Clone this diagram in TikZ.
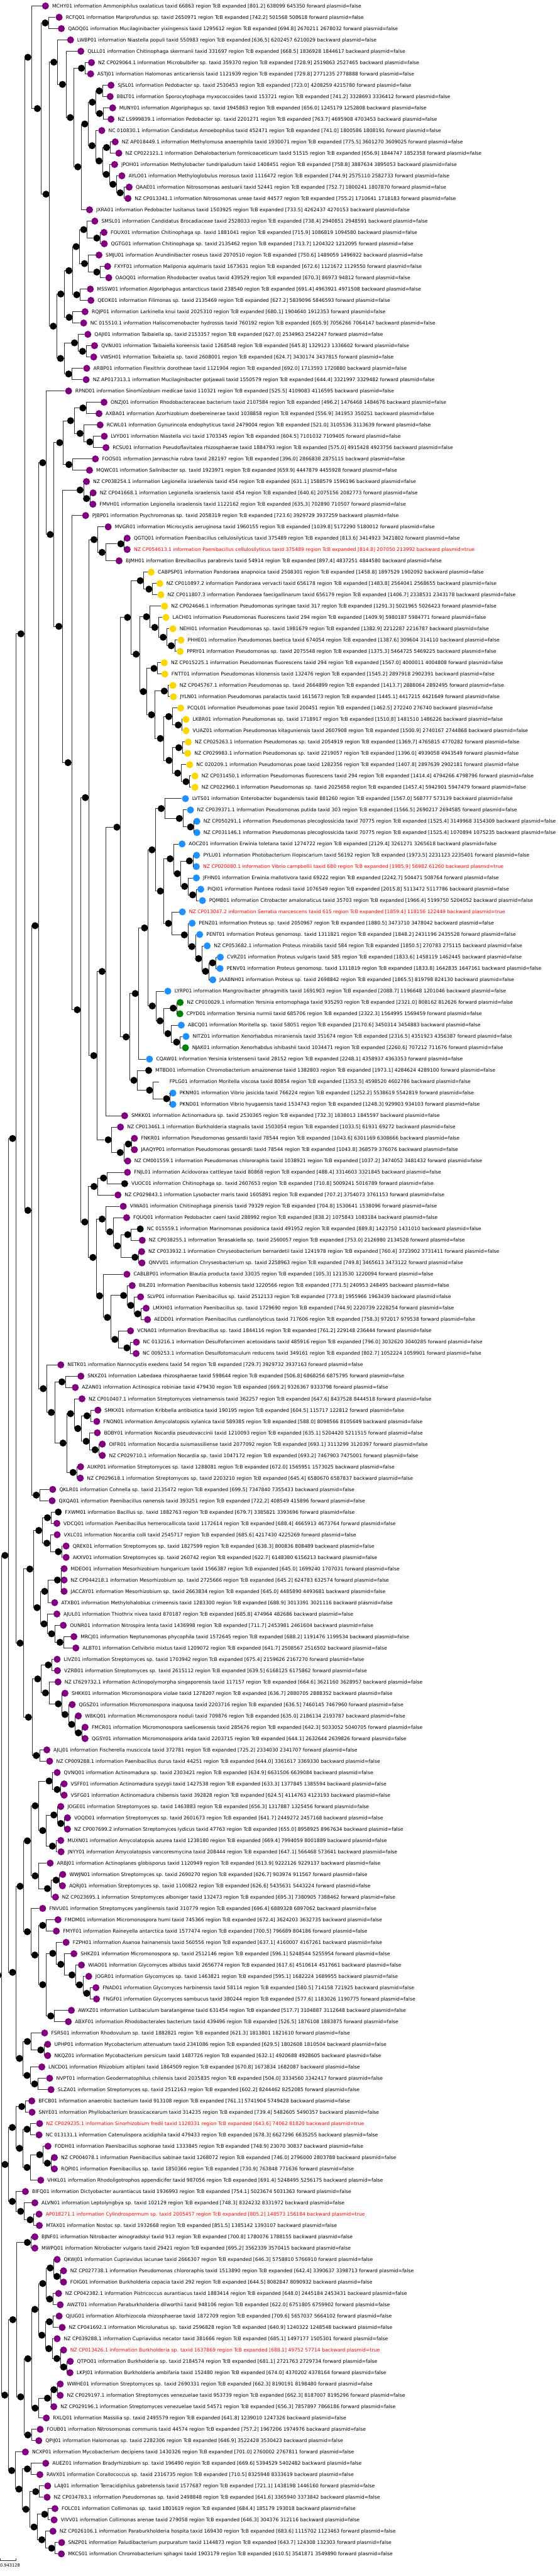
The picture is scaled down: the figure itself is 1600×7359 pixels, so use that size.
\documentclass[tikz,border=0pt]{standalone}
\usepackage{fontspec}
\newfontfamily\lblfont{DejaVu Sans}
\usetikzlibrary{calc}
\definecolor{pur}{HTML}{800080}
\definecolor{gld}{HTML}{FFD700}
\definecolor{dbl}{HTML}{1E90FF}
\definecolor{dgr}{HTML}{008000}
\definecolor{redt}{HTML}{FF0000}
\definecolor{edgec}{HTML}{303030}
\tikzset{
  dot/.style={circle,inner sep=0pt,minimum size=20pt,draw=none},
  idot/.style={dot,fill=black},
  edge/.style={line width=1.5pt,draw=edgec},
  lbl/.style={inner sep=0pt,anchor=base west,font=\lblfont\fontsize{13.8}{16}\selectfont},
}
\newcommand\LF[4]{\node[dot,fill=#3] (l#1) at ({#2*0.7972pt},{#1*-32.35pt}) {};
  \node[lbl] (t#1) at ([xshift=19pt,yshift=-5pt]l#1.center) {#4};}
\newcommand\LR[4]{\node[dot,fill=#3] (l#1) at ({#2*0.7972pt},{#1*-32.35pt}) {};
  \node[lbl,text=redt] (t#1) at ([xshift=19pt,yshift=-5pt]l#1.center) {#4};}
\newcommand\LN[3]{\node[dot,fill=none] (l#1) at ({#2*0.7972pt},{#1*-32.35pt}) {};
  \node[lbl] (t#1) at ([xshift=19pt,yshift=-5pt]l#1.center) {#3};}
\newcommand\ED[2]{\draw[edge] (#1.east) |- (#2);}
\newcommand\ND[4]{\path let \p1=(#3), \p2=(#4) in ({#2*0.7972pt},{0.5*\y1+0.5*\y2}) node[idot] (#1) {};
  \ED{#1}{#3}\ED{#1}{#4}}
\begin{document}
\begin{tikzpicture}
\useasboundingbox (0pt,17pt) rectangle (1600pt,-7342pt);
\fill[white] (0pt,17pt) rectangle (1600pt,-7342pt);
% ---------------- leaves
\LF{0}{163}{pur}{MCHY01 information Ammoniphilus oxalaticus taxid 66863 region TcB expanded [801.2] 638099 645350 forward plasmid=false}
\LF{1}{212}{pur}{RCFQ01 information Mariprofundus sp. taxid 2650971 region TcB expanded [742.2] 501568 508618 forward plasmid=false}
\LF{2}{220}{pur}{QAOQ01 information Mucilaginibacter yixingensis taxid 1295612 region TcB expanded [694.8] 2670211 2678032 forward plasmid=false}
\LF{3}{253}{pur}{LWBP01 information Niastella populi taxid 550983 region TcB expanded [636.5] 6202457 6210029 backward plasmid=false}
\LF{4}{290}{pur}{QLLL01 information Chitinophaga skermanii taxid 331697 region TcB expanded [668.5] 1836928 1844617 backward plasmid=false}
\LF{5}{328}{pur}{NZ CP029064.1 information Microbulbifer sp. taxid 359370 region TcB expanded [728.9] 2519863 2527465 backward plasmid=false}
\LF{6}{325}{pur}{ASTJ01 information Halomonas anticariensis taxid 1121939 region TcB expanded [729.8] 2771235 2778888 forward plasmid=false}
\LF{7}{398}{pur}{SJSL01 information Pedobacter sp. taxid 2530453 region TcB expanded [723.0] 4208259 4215780 forward plasmid=false}
\LF{8}{395}{pur}{BBLT01 information Sporocytophaga myxococcoides taxid 153721 region TcB expanded [741.2] 3328693 3336412 forward plasmid=false}
\LF{9}{404}{pur}{MUNY01 information Algoriphagus sp. taxid 1945863 region TcB expanded [656.0] 1245179 1252808 backward plasmid=false}
\LF{10}{398}{pur}{NZ LS999839.1 information Pedobacter sp. taxid 2201271 region TcB expanded [763.7] 4695908 4703453 backward plasmid=false}
\LF{11}{365}{pur}{NC 010830.1 information Candidatus Amoebophilus taxid 452471 region TcB expanded [741.0] 1800586 1808191 forward plasmid=false}
\LF{12}{413}{pur}{NZ AP018449.1 information Methylomusa anaerophila taxid 1930071 region TcB expanded [775.5] 3601270 3609025 forward plasmid=false}
\LF{13}{426}{pur}{NZ CP022121.1 information Dehalobacterium formicoaceticum taxid 51515 region TcB expanded [656.9] 1844747 1852358 forward plasmid=false}
\LF{14}{411}{pur}{JPOH01 information Methylobacter tundripaludum taxid 1408451 region TcB expanded [758.8] 3887634 3895053 backward plasmid=false}
\LF{15}{437}{pur}{AYLO01 information Methyloglobulus morosus taxid 1116472 region TcB expanded [744.9] 2575110 2582733 forward plasmid=false}
\LF{16}{463}{pur}{QAAE01 information Nitrosomonas aestuarii taxid 52441 region TcB expanded [752.7] 1800241 1807870 forward plasmid=false}
\LF{17}{459}{pur}{NZ CP013341.1 information Nitrosomonas ureae taxid 44577 region TcB expanded [755.2] 1710641 1718183 forward plasmid=false}
\LF{18}{321}{pur}{JXRA01 information Pedobacter lusitanus taxid 1503925 region TcB expanded [733.5] 4262437 4270153 backward plasmid=false}
\LF{19}{340}{pur}{SMSL01 information Candidatus Brocadiaceae taxid 2528033 region TcB expanded [738.4] 2940851 2948591 backward plasmid=false}
\LF{20}{373}{pur}{FOUX01 information Chitinophaga sp. taxid 1881041 region TcB expanded [715.9] 1086819 1094580 backward plasmid=false}
\LF{21}{374}{pur}{QGTG01 information Chitinophaga sp. taxid 2135462 region TcB expanded [713.7] 1204322 1212095 forward plasmid=false}
\LF{22}{355}{pur}{SMJU01 information Arundinibacter roseus taxid 2070510 region TcB expanded [750.6] 1489059 1496922 backward plasmid=false}
\LF{23}{386}{pur}{FXYF01 information Maliponia aquimaris taxid 1673631 region TcB expanded [672.6] 1121672 1129550 forward plasmid=false}
\LF{24}{390}{pur}{OAOQ01 information Rhodobacter ovatus taxid 439529 region TcB expanded [670.3] 86973 94812 forward plasmid=false}
\LF{25}{324}{pur}{MSSW01 information Algoriphagus antarcticus taxid 238540 region TcB expanded [691.4] 4963921 4971508 backward plasmid=false}
\LF{26}{326}{pur}{QEOK01 information Filimonas sp. taxid 2135469 region TcB expanded [627.2] 5839096 5846593 forward plasmid=false}
\LF{27}{305}{pur}{RQJP01 information Larkinella knui taxid 2025310 region TcB expanded [680.1] 1904640 1912353 forward plasmid=false}
\LF{28}{300}{pur}{NC 015510.1 information Haliscomenobacter hydrossis taxid 760192 region TcB expanded [605.9] 7056266 7064147 backward plasmid=false}
\LF{29}{315}{pur}{QAJI01 information Taibaiella sp. taxid 2153357 region TcB expanded [627.0] 2534963 2542247 forward plasmid=false}
\LF{30}{339}{pur}{QVNU01 information Taibaiella koreensis taxid 1268548 region TcB expanded [645.8] 1329123 1336602 forward plasmid=false}
\LF{31}{336}{pur}{VWSH01 information Taibaiella sp. taxid 2608001 region TcB expanded [624.7] 3430174 3437815 forward plasmid=false}
\LF{32}{311}{pur}{ARBP01 information Flexithrix dorotheae taxid 1121904 region TcB expanded [692.0] 1713593 1720880 backward plasmid=false}
\LF{33}{309}{pur}{NZ AP017313.1 information Mucilaginibacter gotjawali taxid 1550579 region TcB expanded [644.4] 3321997 3329482 forward plasmid=false}
\LF{34}{246}{pur}{RPND01 information Sinorhizobium medicae taxid 110321 region TcB expanded [525.5] 4109083 4116595 backward plasmid=false}
\LF{35}{373}{pur}{ONZJ01 information Rhodobacteraceae bacterium taxid 2107584 region TcB expanded [496.2] 1476468 1484676 backward plasmid=false}
\LF{36}{355}{pur}{AXBA01 information Azorhizobium doebereinerae taxid 1038858 region TcB expanded [556.9] 341953 350251 backward plasmid=false}
\LF{37}{359}{pur}{RCWL01 information Gynurincola endophyticus taxid 2479004 region TcB expanded [521.0] 3105536 3113639 forward plasmid=false}
\LF{38}{374}{pur}{LVYD01 information Niastella vici taxid 1703345 region TcB expanded [604.5] 7101032 7109405 forward plasmid=false}
\LF{39}{380}{pur}{RCSU01 information Pseudoflavitalea rhizosphaerae taxid 1884793 region TcB expanded [575.0] 4915428 4923756 backward plasmid=false}
\LF{40}{342}{pur}{FOOS01 information Jannaschia rubra taxid 282197 region TcB expanded [396.0] 2866838 2875115 backward plasmid=false}
\LF{41}{321}{pur}{MQWC01 information Salinibacter sp. taxid 1923971 region TcB expanded [659.9] 4447879 4455928 forward plasmid=false}
\LF{42}{310}{pur}{NZ CP038254.1 information Legionella israelensis taxid 454 region TcB expanded [631.1] 1588579 1596196 backward plasmid=false}
\LF{43}{334}{pur}{NZ CP041668.1 information Legionella israelensis taxid 454 region TcB expanded [640.6] 2075156 2082773 forward plasmid=false}
\LF{44}{333}{pur}{FMVH01 information Legionella israelensis taxid 1122162 region TcB expanded [635.3] 702890 710507 forward plasmid=false}
\LF{45}{307}{pur}{PJBP01 information Psychromonas sp. taxid 2058319 region TcB expanded [723.6] 3929729 3937259 backward plasmid=false}
\LF{46}{388}{pur}{MVGR01 information Microcystis aeruginosa taxid 1960155 region TcB expanded [1039.8] 5172290 5180012 forward plasmid=false}
\LF{47}{456}{pur}{QGTQ01 information Paenibacillus cellulosilyticus taxid 375489 region TcB expanded [813.6] 3414923 3421802 forward plasmid=false}
\LR{48}{456}{pur}{NZ CP054613.1 information Paenibacillus cellulosilyticus taxid 375489 region TcB expanded [814.8] 207050 213992 backward plasmid=true}
\LF{49}{427}{pur}{BJMH01 information Brevibacillus parabrevis taxid 54914 region TcB expanded [897.4] 4837251 4844580 backward plasmid=false}
\LF{50}{542}{gld}{CABPSP01 information Pandoraea anapnoica taxid 2508301 region TcB expanded [1458.8] 1897529 1902092 backward plasmid=false}
\LF{51}{573}{gld}{NZ CP010897.2 information Pandoraea vervacti taxid 656178 region TcB expanded [1483.8] 2564041 2568655 backward plasmid=false}
\LF{52}{577}{gld}{NZ CP011807.3 information Pandoraea faecigallinarum taxid 656179 region TcB expanded [1406.7] 2338531 2343178 backward plasmid=false}
\LF{53}{590}{gld}{NZ CP024646.1 information Pseudomonas syringae taxid 317 region TcB expanded [1291.3] 5021965 5026423 forward plasmid=false}
\LF{54}{595}{gld}{LACH01 information Pseudomonas fluorescens taxid 294 region TcB expanded [1409.9] 5980187 5984771 forward plasmid=false}
\LF{55}{620}{gld}{NEHI01 information Pseudomonas sp. taxid 1981679 region TcB expanded [1382.9] 2212287 2216787 backward plasmid=false}
\LF{56}{649}{gld}{PHHE01 information Pseudomonas baetica taxid 674054 region TcB expanded [1387.6] 309604 314110 backward plasmid=false}
\LF{57}{646}{gld}{PPRY01 information Pseudomonas sp. taxid 2075548 region TcB expanded [1375.3] 5464725 5469225 backward plasmid=false}
\LF{58}{589}{gld}{NZ CP015225.1 information Pseudomonas fluorescens taxid 294 region TcB expanded [1567.0] 4000011 4004808 forward plasmid=false}
\LF{59}{591}{gld}{FNTT01 information Pseudomonas kilonensis taxid 132476 region TcB expanded [1545.2] 2897918 2902391 backward plasmid=false}
\LF{60}{620}{gld}{NZ CP045767.1 information Pseudomonas sp. taxid 2664899 region TcB expanded [1413.7] 2888064 2892495 forward plasmid=false}
\LF{61}{622}{gld}{JYLN01 information Pseudomonas paralactis taxid 1615673 region TcB expanded [1445.1] 4417215 4421649 forward plasmid=false}
\LF{62}{648}{gld}{PCQL01 information Pseudomonas poae taxid 200451 region TcB expanded [1462.5] 272240 276740 backward plasmid=false}
\LF{63}{667}{gld}{LKBR01 information Pseudomonas sp. taxid 1718917 region TcB expanded [1510.8] 1481510 1486226 backward plasmid=false}
\LF{64}{667}{gld}{VUAZ01 information Pseudomonas kitaguniensis taxid 2607908 region TcB expanded [1500.9] 2740167 2744868 backward plasmid=false}
\LF{65}{675}{gld}{NZ CP025263.1 information Pseudomonas sp. taxid 2054919 region TcB expanded [1369.7] 4765815 4770282 forward plasmid=false}
\LF{66}{673}{gld}{NZ CP029983.1 information Pseudomonas sp. taxid 2219057 region TcB expanded [1396.0] 4939058 4943549 forward plasmid=false}
\LF{67}{680}{gld}{NC 020209.1 information Pseudomonas poae taxid 1282356 region TcB expanded [1407.8] 2897639 2902181 forward plasmid=false}
\LF{68}{699}{gld}{NZ CP031450.1 information Pseudomonas fluorescens taxid 294 region TcB expanded [1414.4] 4794266 4798796 forward plasmid=false}
\LF{69}{699}{gld}{NZ CP022960.1 information Pseudomonas sp. taxid 2025658 region TcB expanded [1457.4] 5942901 5947479 forward plasmid=false}
\LF{70}{665}{dbl}{LVTS01 information Enterobacter bugandensis taxid 881260 region TcB expanded [1567.0] 568777 573139 backward plasmid=false}
\LF{71}{683}{dbl}{NZ CP039371.1 information Pseudomonas putida taxid 303 region TcB expanded [1566.5] 2690217 2694585 forward plasmid=false}
\LF{72}{706}{dbl}{NZ CP050291.1 information Pseudomonas plecoglossicida taxid 70775 region TcB expanded [1525.4] 3149968 3154309 backward plasmid=false}
\LF{73}{706}{dbl}{NZ CP031146.1 information Pseudomonas plecoglossicida taxid 70775 region TcB expanded [1525.4] 1070894 1075235 backward plasmid=false}
\LF{74}{653}{dbl}{AOCZ01 information Erwinia toletana taxid 1274722 region TcB expanded [2129.4] 3261271 3265618 backward plasmid=false}
\LF{75}{705}{dbl}{PYLU01 information Photobacterium iliopiscarium taxid 56192 region TcB expanded [1973.5] 2231123 2235401 forward plasmid=false}
\LR{76}{704}{dbl}{NZ CP020080.1 information Vibrio campbellii taxid 680 region TcB expanded [1985.9] 56982 61260 backward plasmid=true}
\LF{77}{704}{dbl}{JFHN01 information Erwinia mallotivora taxid 69222 region TcB expanded [2242.7] 504471 508764 forward plasmid=false}
\LF{78}{720}{dbl}{PIQI01 information Pantoea rodasii taxid 1076549 region TcB expanded [2015.8] 5113472 5117786 backward plasmid=false}
\LF{79}{726}{dbl}{PQMB01 information Citrobacter amalonaticus taxid 35703 region TcB expanded [1966.4] 5199750 5204052 backward plasmid=false}
\LR{80}{654}{dbl}{NZ CP013047.2 information Serratia marcescens taxid 615 region TcB expanded [1859.4] 118156 122449 backward plasmid=true}
\LF{81}{689}{dbl}{PENZ01 information Proteus sp. taxid 2050967 region TcB expanded [1880.5] 3473710 3478042 backward plasmid=false}
\LF{82}{716}{dbl}{PENT01 information Proteus genomosp. taxid 1311821 region TcB expanded [1848.2] 2431196 2435528 forward plasmid=false}
\LF{83}{743}{dbl}{NZ CP053682.1 information Proteus mirabilis taxid 584 region TcB expanded [1850.5] 270783 275115 backward plasmid=false}
\LF{84}{790}{dbl}{CVRZ01 information Proteus vulgaris taxid 585 region TcB expanded [1833.6] 1458119 1462445 backward plasmid=false}
\LF{85}{789}{dbl}{PENV01 information Proteus genomosp. taxid 1311819 region TcB expanded [1833.8] 1642835 1647161 backward plasmid=false}
\LF{86}{763}{dbl}{JAABNH01 information Proteus sp. taxid 2698842 region TcB expanded [1865.5] 819798 824130 backward plasmid=false}
\LF{87}{602}{dbl}{LYRP01 information Mangrovibacter phragmitis taxid 1691903 region TcB expanded [2088.7] 1196648 1201046 backward plasmid=false}
\LF{88}{646}{dgr}{NZ CP010029.1 information Yersinia entomophaga taxid 935293 region TcB expanded [2321.0] 808162 812626 forward plasmid=false}
\LF{89}{645}{dgr}{CPYD01 information Yersinia nurmii taxid 685706 region TcB expanded [2322.3] 1564995 1569459 forward plasmid=false}
\LF{90}{650}{dbl}{ABCQ01 information Moritella sp. taxid 58051 region TcB expanded [2170.6] 3450314 3454883 backward plasmid=false}
\LF{91}{667}{dbl}{NITZ01 information Xenorhabdus miraniensis taxid 351674 region TcB expanded [2316.5] 4351923 4356387 forward plasmid=false}
\LF{92}{665}{dgr}{NJAK01 information Xenorhabdus ishibashii taxid 1034471 region TcB expanded [2260.6] 707212 711676 forward plasmid=false}
\LF{93}{536}{dbl}{CQAW01 information Yersinia kristensenii taxid 28152 region TcB expanded [2248.1] 4358937 4363353 forward plasmid=false}
\LF{94}{533}{black}{MTBD01 information Chromobacterium amazonense taxid 1382803 region TcB expanded [1973.1] 4284624 4289100 forward plasmid=false}
\LN{95}{584}{FPLG01 information Moritella viscosa taxid 80854 region TcB expanded [1353.5] 4598520 4602786 backward plasmid=false}
\LF{96}{620}{dbl}{PKNM01 information Vibrio jasicida taxid 766224 region TcB expanded [1252.2] 5538619 5542819 forward plasmid=false}
\LF{97}{620}{dbl}{PKND01 information Vibrio hyugaensis taxid 1534743 region TcB expanded [1248.3] 929903 934103 forward plasmid=false}
\LF{98}{447}{pur}{SMKK01 information Actinomadura sp. taxid 2530365 region TcB expanded [732.3] 1838013 1845597 backward plasmid=false}
\LF{99}{432}{pur}{NZ CP013461.1 information Burkholderia stagnalis taxid 1503054 region TcB expanded [1033.5] 61931 69272 backward plasmid=false}
\LF{100}{482}{pur}{FNKR01 information Pseudomonas gessardii taxid 78544 region TcB expanded [1043.6] 6301169 6308666 backward plasmid=false}
\LF{101}{482}{pur}{JAAQYP01 information Pseudomonas gessardii taxid 78544 region TcB expanded [1043.8] 368579 376076 backward plasmid=false}
\LF{102}{458}{pur}{NZ CM001559.1 information Pseudomonas chlororaphis taxid 1038921 region TcB expanded [1037.2] 3474052 3481432 forward plasmid=false}
\LF{103}{457}{pur}{FNJL01 information Acidovorax cattleyae taxid 80868 region TcB expanded [488.4] 3314603 3321845 backward plasmid=false}
\LF{104}{447}{black}{VUOC01 information Chitinophaga sp. taxid 2607653 region TcB expanded [710.8] 5009241 5016789 forward plasmid=false}
\LF{105}{423}{pur}{NZ CP029843.1 information Lysobacter maris taxid 1605891 region TcB expanded [707.2] 3754073 3761153 forward plasmid=false}
\LF{106}{442}{pur}{VIWA01 information Chitinophaga pinensis taxid 79329 region TcB expanded [704.8] 1530641 1538096 forward plasmid=false}
\LF{107}{454}{pur}{FQUQ01 information Pedobacter caeni taxid 288992 region TcB expanded [838.2] 1075843 1083184 backward plasmid=false}
\LF{108}{503}{black}{NC 015559.1 information Marinomonas posidonica taxid 491952 region TcB expanded [889.8] 1423750 1431010 backward plasmid=false}
\LF{109}{510}{pur}{NZ CP038255.1 information Terasakiella sp. taxid 2560057 region TcB expanded [753.0] 2126980 2134528 forward plasmid=false}
\LF{110}{508}{pur}{NZ CP033932.1 information Chryseobacterium bernardetii taxid 1241978 region TcB expanded [760.4] 3723902 3731411 forward plasmid=false}
\LF{111}{509}{pur}{QNVV01 information Chryseobacterium sp. taxid 2258963 region TcB expanded [749.8] 3465613 3473122 forward plasmid=false}
\LF{112}{455}{pur}{CABLBP01 information Blautia producta taxid 33035 region TcB expanded [105.3] 1213530 1220094 forward plasmid=false}
\LF{113}{474}{pur}{BILZ01 information Paenibacillus kobensis taxid 1220566 region TcB expanded [771.5] 240953 248495 backward plasmid=false}
\LF{114}{504}{pur}{SLVP01 information Paenibacillus sp. taxid 2512133 region TcB expanded [773.8] 1955966 1963439 backward plasmid=false}
\LF{115}{524}{pur}{LMXH01 information Paenibacillus sp. taxid 1729690 region TcB expanded [744.9] 2220739 2228254 forward plasmid=false}
\LF{116}{529}{pur}{AEDD01 information Paenibacillus curdlanolyticus taxid 717606 region TcB expanded [758.3] 972017 979538 forward plasmid=false}
\LF{117}{468}{pur}{VCNA01 information Brevibacillus sp. taxid 1844116 region TcB expanded [761.2] 229148 236444 forward plasmid=false}
\LF{118}{489}{pur}{NC 013216.1 information Desulfofarcimen acetoxidans taxid 485916 region TcB expanded [796.0] 3032620 3040285 forward plasmid=false}
\LF{119}{488}{pur}{NC 009253.1 information Desulfotomaculum reducens taxid 349161 region TcB expanded [802.7] 1052224 1059901 forward plasmid=false}
\LF{120}{218}{pur}{NETK01 information Nannocystis exedens taxid 54 region TcB expanded [729.7] 3929732 3937163 forward plasmid=false}
\LF{121}{290}{pur}{SNXZ01 information Labedaea rhizosphaerae taxid 598644 region TcB expanded [506.8] 6868256 6875795 forward plasmid=false}
\LF{122}{270}{pur}{AZAN01 information Actinospica robiniae taxid 479430 region TcB expanded [669.2] 9326367 9333798 forward plasmid=false}
\LF{123}{294}{pur}{NZ CP010407.1 information Streptomyces vietnamensis taxid 362257 region TcB expanded [647.6] 8437528 8444518 forward plasmid=false}
\LF{124}{351}{pur}{SMKX01 information Kribbella antibiotica taxid 190195 region TcB expanded [604.5] 115717 122812 forward plasmid=false}
\LF{125}{347}{pur}{FNON01 information Amycolatopsis xylanica taxid 589385 region TcB expanded [588.0] 8098566 8105649 backward plasmid=false}
\LF{126}{349}{pur}{BDBY01 information Nocardia pseudovaccinii taxid 1210093 region TcB expanded [635.1] 5204420 5211515 forward plasmid=false}
\LF{127}{367}{pur}{OIFR01 information Nocardia suismassiliense taxid 2077092 region TcB expanded [693.1] 3113299 3120397 forward plasmid=false}
\LF{128}{367}{pur}{NZ CP029710.1 information Nocardia sp. taxid 1047172 region TcB expanded [693.2] 7467903 7475001 forward plasmid=false}
\LF{129}{289}{pur}{AUKP01 information Streptomyces sp. taxid 1288081 region TcB expanded [672.0] 1565951 1573025 backward plasmid=false}
\LF{130}{288}{pur}{NZ CP029618.1 information Streptomyces sp. taxid 2203210 region TcB expanded [645.4] 6580670 6587837 backward plasmid=false}
\LF{131}{189}{pur}{QKLR01 information Cohnella sp. taxid 2135472 region TcB expanded [699.5] 7347840 7355433 backward plasmid=false}
\LF{132}{187}{pur}{QXQA01 information Paenibacillus nanensis taxid 393251 region TcB expanded [722.2] 408549 415896 forward plasmid=false}
\LF{133}{209}{black}{FXWM01 information Bacillus sp. taxid 1882763 region TcB expanded [679.7] 3385821 3393696 forward plasmid=false}
\LF{134}{204}{pur}{VDCQ01 information Paenibacillus hemerocallicola taxid 1172614 region TcB expanded [688.4] 4665913 4673764 forward plasmid=false}
\LF{135}{205}{pur}{VXLC01 information Nocardia colli taxid 2545717 region TcB expanded [685.6] 4217430 4225269 forward plasmid=false}
\LF{136}{237}{pur}{QREK01 information Streptomyces sp. taxid 1827599 region TcB expanded [638.3] 800836 808489 backward plasmid=false}
\LF{137}{237}{pur}{AKXV01 information Streptomyces sp. taxid 260742 region TcB expanded [622.7] 6148380 6156213 backward plasmid=false}
\LF{138}{230}{pur}{MDEO01 information Mesorhizobium hungaricum taxid 1566387 region TcB expanded [645.0] 1699240 1707031 forward plasmid=false}
\LF{139}{230}{pur}{NZ CP044218.1 information Mesorhizobium sp. taxid 2725666 region TcB expanded [645.2] 624783 632574 forward plasmid=false}
\LF{140}{230}{pur}{JACCAY01 information Mesorhizobium sp. taxid 2663834 region TcB expanded [645.0] 4485890 4493681 backward plasmid=false}
\LF{141}{196}{pur}{ATXB01 information Methylohalobius crimeensis taxid 1283300 region TcB expanded [688.9] 3013391 3021116 backward plasmid=false}
\LF{142}{204}{pur}{AJUL01 information Thiothrix nivea taxid 870187 region TcB expanded [685.8] 474964 482686 backward plasmid=false}
\LF{143}{227}{pur}{OUNR01 information Nitrospira lenta taxid 1436998 region TcB expanded [711.7] 2453981 2461604 backward plasmid=false}
\LF{144}{265}{pur}{MRCJ01 information Neptunomonas phycophila taxid 1572645 region TcB expanded [688.2] 1191476 1199534 backward plasmid=false}
\LF{145}{272}{pur}{ALBT01 information Cellvibrio mixtus taxid 1209072 region TcB expanded [641.7] 2508567 2516502 backward plasmid=false}
\LF{146}{205}{pur}{LIVZ01 information Streptomyces sp. taxid 1703942 region TcB expanded [675.4] 2159626 2167270 forward plasmid=false}
\LF{147}{206}{pur}{VZRB01 information Streptomyces sp. taxid 2615112 region TcB expanded [639.5] 6168125 6175862 forward plasmid=false}
\LF{148}{208}{pur}{NZ LT629732.1 information Actinopolymorpha singaporensis taxid 117157 region TcB expanded [664.6] 3621160 3628957 backward plasmid=false}
\LF{149}{233}{pur}{SHKK01 information Micromonospora violae taxid 1278207 region TcB expanded [636.7] 2880705 2888352 backward plasmid=false}
\LF{150}{259}{pur}{QGSZ01 information Micromonospora inaquosa taxid 2203716 region TcB expanded [636.5] 7460145 7467960 forward plasmid=false}
\LF{151}{281}{pur}{WBKQ01 information Micromonospora noduli taxid 709876 region TcB expanded [635.0] 2186134 2193787 backward plasmid=false}
\LF{152}{305}{pur}{FMCR01 information Micromonospora saelicesensis taxid 285676 region TcB expanded [642.3] 5033052 5040705 forward plasmid=false}
\LF{153}{305}{pur}{QGSY01 information Micromonospora arida taxid 2203715 region TcB expanded [644.1] 2632644 2639826 forward plasmid=false}
\LF{154}{168}{pur}{AJLJ01 information Fischerella muscicola taxid 372781 region TcB expanded [725.2] 2334030 2341707 forward plasmid=false}
\LF{155}{178}{pur}{NZ CP009288.1 information Paenibacillus durus taxid 44251 region TcB expanded [644.0] 3361617 3369330 backward plasmid=false}
\LF{156}{205}{pur}{QVNQ01 information Actinomadura sp. taxid 2303421 region TcB expanded [634.9] 6631506 6639084 backward plasmid=false}
\LF{157}{230}{pur}{VSFF01 information Actinomadura syzygii taxid 1427538 region TcB expanded [633.3] 1377845 1385594 backward plasmid=false}
\LF{158}{230}{pur}{VSFG01 information Actinomadura chibensis taxid 392828 region TcB expanded [624.5] 4114763 4123193 backward plasmid=false}
\LF{159}{218}{pur}{JOGE01 information Streptomyces sp. taxid 1463883 region TcB expanded [656.3] 1317887 1325456 forward plasmid=false}
\LF{160}{242}{pur}{VOQD01 information Streptomyces sp. taxid 2601673 region TcB expanded [641.7] 2449272 2457168 backward plasmid=false}
\LF{161}{242}{pur}{NZ CP007699.2 information Streptomyces lydicus taxid 47763 region TcB expanded [655.0] 8958925 8967634 backward plasmid=false}
\LF{162}{218}{pur}{MUXN01 information Amycolatopsis azurea taxid 1238180 region TcB expanded [669.4] 7994059 8001889 backward plasmid=false}
\LF{163}{219}{pur}{JNYY01 information Amycolatopsis vancoresmycina taxid 208444 region TcB expanded [647.1] 566468 573641 backward plasmid=false}
\LF{164}{180}{pur}{ARBJ01 information Actinoplanes globisporus taxid 1120949 region TcB expanded [613.9] 9222126 9229137 backward plasmid=false}
\LF{165}{225}{pur}{WWJN01 information Streptomyces sp. taxid 2690270 region TcB expanded [626.7] 903974 911567 forward plasmid=false}
\LF{166}{224}{pur}{AQRJ01 information Streptomyces sp. taxid 1100822 region TcB expanded [626.6] 5435631 5443224 forward plasmid=false}
\LF{167}{199}{pur}{NZ CP023695.1 information Streptomyces alboniger taxid 132473 region TcB expanded [695.3] 7380905 7388462 forward plasmid=false}
\LF{168}{153}{pur}{FNVU01 information Streptomyces yanglinensis taxid 310779 region TcB expanded [696.4] 6889328 6897062 backward plasmid=false}
\LF{169}{208}{pur}{FMDM01 information Micromonospora humi taxid 745366 region TcB expanded [672.4] 3624203 3632735 backward plasmid=false}
\LF{170}{202}{pur}{FMYF01 information Raineyella antarctica taxid 1577474 region TcB expanded [700.5] 796689 804186 forward plasmid=false}
\LF{171}{237}{pur}{FZPH01 information Asanoa hainanensis taxid 560556 region TcB expanded [637.1] 4160007 4167261 backward plasmid=false}
\LF{172}{265}{pur}{SHKZ01 information Micromonospora sp. taxid 2512146 region TcB expanded [596.1] 5248544 5255954 forward plasmid=false}
\LF{173}{292}{pur}{WIAO01 information Glycomyces albidus taxid 2656774 region TcB expanded [617.6] 4510614 4517661 backward plasmid=false}
\LF{174}{318}{pur}{JOGR01 information Glycomyces sp. taxid 1463821 region TcB expanded [595.1] 1682224 1689955 backward plasmid=false}
\LF{175}{344}{pur}{FNAD01 information Glycomyces harbinensis taxid 58114 region TcB expanded [580.5] 714158 721925 backward plasmid=false}
\LF{176}{346}{pur}{FNGF01 information Glycomyces sambucus taxid 380244 region TcB expanded [577.6] 1183026 1190775 forward plasmid=false}
\LF{177}{256}{pur}{AWXZ01 information Lutibaculum baratangense taxid 631454 region TcB expanded [517.7] 3104887 3112648 backward plasmid=false}
\LF{178}{245}{pur}{ABXF01 information Rhodobacterales bacterium taxid 439496 region TcB expanded [526.5] 1876108 1883875 forward plasmid=false}
\LF{179}{160}{pur}{FSRS01 information Rhodovulum sp. taxid 1882821 region TcB expanded [621.3] 1813801 1821610 forward plasmid=false}
\LF{180}{171}{pur}{UPHP01 information Mycobacterium attenuatum taxid 2341086 region TcB expanded [629.5] 1802608 1810504 backward plasmid=false}
\LF{181}{171}{pur}{NKQZ01 information Mycobacterium persicum taxid 1487726 region TcB expanded [632.1] 4920688 4928605 backward plasmid=false}
\LF{182}{150}{pur}{LNCD01 information Rhizobium altiplani taxid 1864509 region TcB expanded [670.8] 1673834 1682087 backward plasmid=false}
\LF{183}{178}{pur}{NVPT01 information Geodermatophilus chilensis taxid 2035835 region TcB expanded [504.0] 3334560 3342417 forward plasmid=false}
\LF{184}{183}{pur}{SLZA01 information Streptomyces sp. taxid 2512163 region TcB expanded [602.2] 8244462 8252085 forward plasmid=false}
\LF{185}{114}{pur}{BFCB01 information anaerobic bacterium taxid 913108 region TcB expanded [761.1] 5741904 5749428 backward plasmid=false}
\LF{186}{115}{pur}{SNYE01 information Phyllobacterium brassicacearum taxid 314235 region TcB expanded [739.4] 5482605 5490357 backward plasmid=false}
\LR{187}{142}{pur}{NZ CP029235.1 information Sinorhizobium fredii taxid 1128331 region TcB expanded [643.6] 74062 81820 backward plasmid=true}
\LF{188}{140}{pur}{NC 013131.1 information Catenulispora acidiphila taxid 479433 region TcB expanded [678.3] 6627296 6635255 backward plasmid=false}
\LF{189}{172}{pur}{FODH01 information Paenibacillus sophorae taxid 1333845 region TcB expanded [748.9] 23070 30837 backward plasmid=false}
\LF{190}{195}{pur}{NZ CP004078.1 information Paenibacillus sabinae taxid 1268072 region TcB expanded [746.0] 2796000 2803788 backward plasmid=false}
\LF{191}{195}{pur}{RQPI01 information Paenibacillus sp. taxid 1850366 region TcB expanded [730.9] 763848 771636 forward plasmid=false}
\LF{192}{146}{pur}{VHKL01 information Rhodoligotrophos appendicifer taxid 987056 region TcB expanded [691.4] 5248495 5256175 backward plasmid=false}
\LF{193}{91}{pur}{BIFQ01 information Dictyobacter aurantiacus taxid 1936993 region TcB expanded [754.1] 5023674 5031363 forward plasmid=false}
\LF{194}{125}{pur}{ALVN01 information Leptolyngbya sp. taxid 102129 region TcB expanded [748.3] 8324232 8331972 backward plasmid=false}
\LR{195}{140}{pur}{AP018271.1 information Cylindrospermum sp. taxid 2005457 region TcB expanded [805.2] 148573 156184 backward plasmid=true}
\LF{196}{141}{pur}{MTAX01 information Nostoc sp. taxid 1932668 region TcB expanded [851.5] 1385142 1393107 backward plasmid=false}
\LF{197}{125}{pur}{BJNF01 information Nitrobacter winogradskyi taxid 913 region TcB expanded [700.8] 1780076 1788155 backward plasmid=false}
\LF{198}{125}{pur}{MWPQ01 information Nitrobacter vulgaris taxid 29421 region TcB expanded [695.2] 3562339 3570415 backward plasmid=false}
\LF{199}{205}{pur}{QKWJ01 information Cupriavidus lacunae taxid 2666307 region TcB expanded [646.3] 5758810 5766910 forward plasmid=false}
\LF{200}{228}{pur}{NZ CP027738.1 information Pseudomonas chlororaphis taxid 1513890 region TcB expanded [642.4] 3390637 3398713 forward plasmid=false}
\LF{201}{228}{pur}{FOIG01 information Burkholderia cepacia taxid 292 region TcB expanded [644.5] 8082847 8090932 backward plasmid=false}
\LF{202}{210}{pur}{NZ CP042382.1 information Pistricoccus aurantiacus taxid 1883414 region TcB expanded [648.0] 2445184 2453431 backward plasmid=false}
\LF{203}{216}{pur}{AWZT01 information Paraburkholderia dilworthii taxid 948106 region TcB expanded [622.0] 6751805 6759902 forward plasmid=false}
\LF{204}{212}{pur}{QJUG01 information Allorhizocola rhizosphaerae taxid 1872709 region TcB expanded [709.6] 5657037 5664102 forward plasmid=false}
\LF{205}{223}{pur}{NZ CP041692.1 information Microlunatus sp. taxid 2596828 region TcB expanded [640.9] 1240322 1248548 backward plasmid=false}
\LF{206}{205}{pur}{NZ CP039288.1 information Cupriavidus necator taxid 381666 region TcB expanded [685.1] 1497177 1505301 forward plasmid=false}
\LR{207}{228}{pur}{NZ CP013426.1 information Burkholderia sp. taxid 1637869 region TcB expanded [688.1] 49752 57714 backward plasmid=true}
\LF{208}{252}{pur}{QTPO01 information Burkholderia sp. taxid 2184574 region TcB expanded [681.1] 2721763 2729734 forward plasmid=false}
\LF{209}{251}{pur}{LKPJ01 information Burkholderia ambifaria taxid 152480 region TcB expanded [674.0] 4370202 4378164 forward plasmid=false}
\LF{210}{216}{pur}{WWHE01 information Streptomyces sp. taxid 2690331 region TcB expanded [662.3] 8190191 8198480 forward plasmid=false}
\LF{211}{216}{pur}{NZ CP029197.1 information Streptomyces venezuelae taxid 953739 region TcB expanded [662.3] 8187007 8195296 forward plasmid=false}
\LF{212}{193}{pur}{NZ CP029196.1 information Streptomyces venezuelae taxid 54571 region TcB expanded [656.3] 7857897 7866186 forward plasmid=false}
\LF{213}{166}{pur}{RXLQ01 information Massilia sp. taxid 2495579 region TcB expanded [641.8] 1239010 1247326 backward plasmid=false}
\LF{214}{144}{pur}{FOUB01 information Nitrosomonas communis taxid 44574 region TcB expanded [757.2] 1967206 1974976 backward plasmid=false}
\LF{215}{139}{pur}{QPIJ01 information Halomonas sp. taxid 2282306 region TcB expanded [646.9] 3522428 3530423 backward plasmid=false}
\LF{216}{91}{pur}{NCXP01 information Mycobacterium decipiens taxid 1430326 region TcB expanded [701.0] 2760002 2767811 forward plasmid=false}
\LF{217}{164}{pur}{AUEZ01 information Bradyrhizobium sp. taxid 196490 region TcB expanded [669.6] 5394529 5402482 backward plasmid=false}
\LF{218}{143}{pur}{RAVX01 information Corallococcus sp. taxid 2316735 region TcB expanded [710.5] 8325948 8333619 backward plasmid=false}
\LF{219}{171}{pur}{LAIJ01 information Terracidiphilus gabretensis taxid 1577687 region TcB expanded [721.1] 1438198 1446160 forward plasmid=false}
\LF{220}{169}{pur}{NZ CP034783.1 information Pseudomonas sp. taxid 2498848 region TcB expanded [641.6] 3365940 3373842 backward plasmid=false}
\LF{221}{197}{pur}{FOLC01 information Collimonas sp. taxid 1801619 region TcB expanded [684.4] 185179 193018 backward plasmid=false}
\LF{222}{194}{pur}{VIVV01 information Collimonas arenae taxid 279058 region TcB expanded [646.3] 304376 312116 backward plasmid=false}
\LF{223}{190}{pur}{NZ CP026106.1 information Paraburkholderia hospita taxid 169430 region TcB expanded [683.6] 1115702 1123463 forward plasmid=false}
\LF{224}{221}{pur}{SNZP01 information Paludibacterium purpuratum taxid 1144873 region TcB expanded [643.7] 124308 132303 forward plasmid=false}
\LF{225}{220}{pur}{MKCS01 information Chromobacterium sphagni taxid 1903179 region TcB expanded [610.5] 3541871 3549890 forward plasmid=false}
% ---------------- internal nodes (children before parents)
\ND{C}{162}{l1}{l2}
\ND{I}{292}{l5}{l6}
\ND{N}{356}{l7}{l8}
\ND{O}{357}{l9}{l10}
\ND{L}{331}{N}{O}
\ND{Q}{382}{l12}{l13}
\ND{T}{431}{l16}{l17}
\ND{S}{405}{l15}{T}
\ND{R1}{381}{l14}{S}
\ND{P}{355}{Q}{R1}
\ND{M}{330}{l11}{P}
\ND{K}{304}{L}{M}
\ND{J}{279}{K}{l18}
\ND{H}{252}{I}{J}
\ND{G}{224}{l4}{H}
\ND{E}{193}{l3}{G}
\ND{AB}{347}{l20}{l21}
\ND{Z}{300}{l19}{AB}
\ND{AC}{347}{l23}{l24}
\ND{AA}{303}{l22}{AC}
\ND{X}{273}{Z}{AA}
\ND{Y}{275}{l25}{l26}
\ND{V}{247}{X}{Y}
\ND{W}{248}{l27}{l28}
\ND{U}{218}{V}{W}
\ND{AG}{296}{l30}{l31}
\ND{AE}{267}{l29}{AG}
\ND{AF}{246}{l32}{l33}
\ND{AD}{217}{AE}{AF}
\ND{F}{191}{U}{AD}
\ND{D}{165}{E}{F}
\ND{B}{134}{C}{D}
\ND{A}{100}{l0}{B}
\ND{BF}{297}{l35}{l36}
\ND{BH}{322}{l38}{l39}
\ND{BG}{287}{l37}{BH}
\ND{BD}{253}{BF}{BG}
\ND{BE}{247}{l40}{l41}
\ND{BC}{214}{BD}{BE}
\ND{CH}{310}{l43}{l44}
\ND{CF}{287}{l42}{CH}
\ND{CO}{433}{l47}{l48}
\ND{CN}{366}{CO}{l49}
\ND{CL}{337}{l46}{CN}
\ND{DL}{534}{l51}{l52}
\ND{DK}{503}{l50}{DL}
\ND{DQ}{614}{l56}{l57}
\ND{DP}{585}{l55}{DQ}
\ND{DO}{555}{l54}{DP}
\ND{DN}{525}{l53}{DO}
\ND{DS}{552}{l58}{l59}
\ND{DU}{589}{l60}{l61}
\ND{DX}{639}{l63}{l64}
\ND{DW}{605}{l62}{DX}
\ND{DZ}{641}{l65}{l66}
\ND{EB}{667}{l68}{l69}
\ND{EA}{637}{l67}{EB}
\ND{DY}{606}{DZ}{EA}
\ND{DV}{575}{DW}{DY}
\ND{DT}{543}{DU}{DV}
\ND{DR}{514}{DS}{DT}
\ND{DM}{488}{DN}{DR}
\ND{DJ}{457}{DK}{DM}
\ND{EL1}{683}{l72}{l73}
\ND{EK1}{643}{l71}{EL1}
\ND{EI1}{578}{l70}{EK1}
\ND{EP1}{679}{l75}{l76}
\ND{ER1}{691}{l78}{l79}
\ND{EQ1}{662}{l77}{ER1}
\ND{EO1}{636}{EP1}{EQ1}
\ND{EM1}{610}{l74}{EO1}
\ND{EW1}{762}{l84}{l85}
\ND{EV1}{737}{EW1}{l86}
\ND{EU1}{712}{l83}{EV1}
\ND{ET1}{688}{l82}{EU1}
\ND{ES1}{661}{l81}{ET1}
\ND{EN1}{604}{l80}{ES1}
\ND{EJ1}{575}{EM1}{EN1}
\ND{EG1}{545}{EI1}{EJ1}
\ND{EY1}{621}{l88}{l89}
\ND{FA1}{633}{l91}{l92}
\ND{EZ1}{602}{l90}{FA1}
\ND{EX1}{574}{EY1}{EZ1}
\ND{EH1}{546}{l87}{EX1}
\ND{EF}{518}{EG1}{EH1}
\ND{ED}{485}{EF}{l93}
\ND{EH}{597}{l96}{l97}
\ND{EG}{536}{l95}{EH}
\ND{EE}{480}{l94}{EG}
\ND{EC}{452}{ED}{EE}
\ND{DF}{419}{DJ}{EC}
\ND{DE}{366}{DF}{l98}
\ND{DI}{460}{l100}{l101}
\ND{DH}{431}{DI}{l102}
\ND{DG}{388}{l99}{DH}
\ND{CM}{336}{DE}{DG}
\ND{CJ}{306}{CL}{CM}
\ND{CR}{371}{l103}{l104}
\ND{CP}{337}{CR}{l105}
\ND{CW}{458}{l108}{l109}
\ND{CX}{484}{l110}{l111}
\ND{CV}{421}{CW}{CX}
\ND{CU}{394}{l107}{CV}
\ND{CS}{366}{l106}{CU}
\ND{DB2}{494}{l115}{l116}
\ND{DA2}{469}{l114}{DB2}
\ND{CZ}{443}{l113}{DA2}
\ND{DD2}{455}{l118}{l119}
\ND{DC2}{412}{l117}{DD2}
\ND{CY}{385}{CZ}{DC2}
\ND{CT}{357}{l112}{CY}
\ND{CQ}{333}{CS}{CT}
\ND{CK}{304}{CP}{CQ}
\ND{CI}{277}{CJ}{CK}
\ND{CG}{244}{l45}{CI}
\ND{CE}{211}{CF}{CG}
\ND{BB}{180}{BC}{CE}
\ND{BA}{153}{l34}{BB}
\ND{EJ}{222}{l121}{l122}
\ND{EN}{312}{l124}{l125}
\ND{EP}{341}{l127}{l128}
\ND{EO}{309}{l126}{EP}
\ND{EM}{279}{EN}{EO}
\ND{EL}{253}{l123}{EM}
\ND{EQ}{262}{l129}{l130}
\ND{EK}{226}{EL}{EQ}
\ND{EI}{184}{EJ}{EK}
\ND{BY}{155}{l120}{EI}
\ND{BZ}{126}{BA}{BY}
\ND{ER}{130}{l131}{l132}
\ND{CA}{100}{BZ}{ER}
\ND{CB}{75}{A}{CA}
\ND{EW}{170}{l133}{l134}
\ND{EY}{209}{l136}{l137}
\ND{EX}{168}{l135}{EY}
\ND{EV}{139}{EW}{EX}
\ND{FB}{206}{l138}{l140}\ED{FB}{l139}
\ND{FA}{160}{FB}{l141}
\ND{FE}{215}{l144}{l145}
\ND{FD}{185}{l143}{FE}
\ND{FC}{158}{l142}{FD}
\ND{EZ}{133}{FA}{FC}
\ND{ET}{107}{EV}{EZ}
\ND{FG}{173}{l146}{l147}
\ND{FL}{281}{l152}{l153}
\ND{FK}{257}{l151}{FL}
\ND{FJ}{233}{l150}{FK}
\ND{FI}{209}{l149}{FJ}
\ND{FH}{163}{l148}{FI}
\ND{FF}{135}{FG}{FH}
\ND{FM}{130}{l154}{l155}
\ND{EU}{102}{FF}{FM}
\ND{ES}{72}{ET}{EU}
\ND{CC}{45}{CB}{ES}
\ND{FR}{205}{l157}{l158}
\ND{FQ}{176}{l156}{FR}
\ND{FU}{218}{l160}{l161}
\ND{FT}{193}{l159}{FU}
\ND{FV}{188}{l162}{l163}
\ND{FS}{153}{FT}{FV}
\ND{FP}{126}{FQ}{FS}
\ND{FY}{201}{l165}{l166}
\ND{FX}{170}{FY}{l167}
\ND{FW}{126}{l164}{FX}
\ND{FO}{98}{FP}{FW}
\ND{GB}{153}{l169}{l170}
\ND{GH}{311}{l175}{l176}
\ND{GG}{285}{l174}{GH}
\ND{GF}{258}{l173}{GG}
\ND{GE}{218}{l172}{GF}
\ND{GD}{189}{l171}{GE}
\ND{GI}{182}{l177}{l178}
\ND{GC}{153}{GD}{GI}
\ND{GA}{125}{GB}{GC}
\ND{FZ}{98}{l168}{GA}
\ND{FN}{72}{FO}{FZ}
\ND{GM}{146}{l180}{l181}
\ND{GK}{98}{l179}{GM}
\ND{GN}{124}{l183}{l184}
\ND{GL}{97}{l182}{GN}
\ND{GJ}{70}{GK}{GL}
\ND{DA}{45}{FN}{GJ}
\ND{CD}{18}{CC}{DA}
\ND{GP}{78}{l185}{l186}
\ND{GR}{97}{l187}{l188}
\ND{GU}{170}{l190}{l191}
\ND{GT}{142}{l189}{GU}
\ND{GS}{97}{GT}{l192}
\ND{GQ}{70}{GR}{GS}
\ND{GO}{44}{GP}{GQ}
\ND{GX}{108}{l195}{l196}
\ND{GW}{74}{l194}{GX}
\ND{GV}{44}{l193}{GW}
\ND{DB}{18}{GO}{GV}
\ND{GZ}{98}{l197}{l198}
\ND{HF}{204}{l200}{l201}
\ND{HE}{180}{l199}{HF}
\ND{HG}{178}{l202}{l203}
\ND{HD}{153}{HE}{HG}
\ND{HI}{177}{l204}{l205}
\ND{HL}{228}{l208}{l209}
\ND{HK}{204}{l207}{HL}
\ND{HJ}{175}{l206}{HK}
\ND{HH}{150}{HI}{HJ}
\ND{HC}{125}{HD}{HH}
\ND{HO}{193}{l210}{l211}
\ND{HN}{170}{HO}{l212}
\ND{HM}{126}{HN}{l213}
\ND{HB}{100}{HC}{HM}
\ND{HP}{100}{l214}{l215}
\ND{HA}{74}{HB}{HP}
\ND{GY}{46}{GZ}{HA}
\ND{HS}{98}{l217}{l218}
\ND{HU}{128}{l219}{l220}
\ND{HW}{160}{l221}{l222}
\ND{HY}{185}{l224}{l225}
\ND{HX}{150}{l223}{HY}
\ND{HV}{122}{HW}{HX}
\ND{HT}{93}{HU}{HV}
\ND{HR}{68}{HS}{HT}
\ND{HQ}{42}{l216}{HR}
\ND{DC}{17}{GY}{HQ}
\ND{ROOT}{-7}{CD}{DC}\ED{ROOT}{DB}
% ---------------- scale bar
\coordinate (sbL) at (0pt,-7298pt);
\coordinate (sbR) at (46pt,-7298pt);
\draw[line width=1.2pt,draw=edgec] ([yshift=6pt]sbL) -- (sbL) -- (sbR) -- ([yshift=6pt]sbR);
\node[inner sep=0pt,anchor=north west,font=\lblfont\fontsize{12}{13}\selectfont] (sbt) at (0pt,-7307pt) {0.943128};
\end{tikzpicture}
\end{document}
